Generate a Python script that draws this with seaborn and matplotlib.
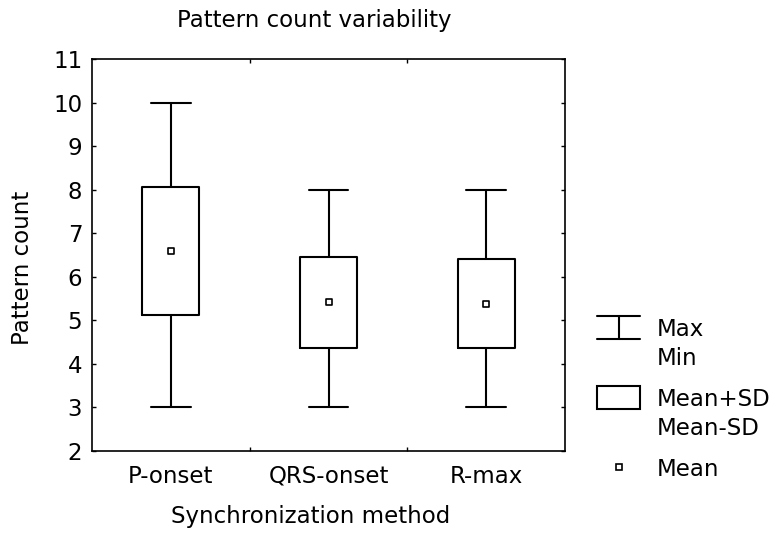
import matplotlib
matplotlib.use("Agg")
import matplotlib.pyplot as plt
from matplotlib.legend_handler import HandlerBase
from matplotlib.lines import Line2D
from matplotlib.patches import Rectangle
import seaborn as sns
import pandas as pd

# Summary statistics
methods = ["P-onset", "QRS-onset", "R-max"]
means = [6.59, 5.41, 5.38]
sds = [1.46, 1.04, 1.02]
mins = [3, 3, 3]
maxs = [10, 8, 8]

df = pd.DataFrame({"method": methods, "mean": means, "sd": sds, "min": mins, "max": maxs})

sns.set_style("ticks")
plt.rcParams["font.family"] = ["DejaVu Sans"]
plt.rcParams.update({"text.color": "black", "xtick.color": "black",
                     "ytick.color": "black", "axes.edgecolor": "black"})
FS = 16.5
LINESP = 1.36

fig = plt.figure(figsize=(7.77, 5.33), dpi=100)
ax = fig.add_axes([92 / 777, 82 / 533, 473 / 777, 392 / 533])

# boxes = mean +/- SD, whiskers = min/max
stats = [
    {"label": r.method, "med": r.mean, "q1": r.mean - r.sd, "q3": r.mean + r.sd,
     "whislo": r.min, "whishi": r.max, "fliers": []}
    for r in df.itertuples()
]
line = dict(color="black", linewidth=1.5)
ax.bxp(stats, positions=range(len(stats)), widths=0.36, capwidths=0.25,
       showfliers=False, boxprops=line, whiskerprops=line, capprops=line,
       medianprops=dict(linewidth=0))

# mean markers
sns.scatterplot(data=df, x=range(len(df)), y="mean", marker="s", s=25,
                facecolor="white", edgecolor="black", linewidth=1.2,
                zorder=5, ax=ax)

ax.set_xlim(-0.5, 2.5)
ax.set_ylim(2, 11)
ax.set_yticks(range(2, 12))
ax.set_xticks(range(len(methods)))
ax.set_xticklabels(methods)
ax.set_xticks([0.5, 1.5], minor=True)
ax.tick_params(axis="x", which="major", length=0, pad=10, labelsize=FS)
ax.tick_params(axis="x", which="minor", direction="in", length=3, width=1,
               top=True, bottom=True)
ax.tick_params(axis="y", direction="in", length=3, width=1, left=True,
               right=True, pad=7, labelsize=FS)
ax.set_xlabel("")
ax.set_ylabel("")
for sp in ax.spines.values():
    sp.set_linewidth(1.2)
    sp.set_color("black")

fig.text(314 / 777, 1 - 20 / 533, "Pattern count variability", fontsize=FS,
         ha="center", va="center")
fig.text(311 / 777, 1 - 516 / 533, "Synchronization method", fontsize=FS,
         ha="center", va="center")
fig.text(23 / 777, 1 - 268 / 533, "Pattern count", fontsize=FS,
         ha="center", va="center", rotation=90)

# legend handles sit beside the first line of a two-line label
SHIFT = 0.5 * 0.927 * LINESP + 0.15
HH = 1.0


class CapHandler(HandlerBase):
    def create_artists(self, legend, orig_handle, xdescent, ydescent,
                       width, height, fontsize, trans):
        x0, x1 = -xdescent, -xdescent + width
        xm = (x0 + x1) / 2
        yc = -ydescent + height / 2 + SHIFT * fontsize
        y0, y1 = yc - HH * fontsize / 2, yc + HH * fontsize / 2
        kw = dict(color="black", linewidth=1.5, transform=trans)
        return [Line2D([x0, x1], [y1, y1], **kw),
                Line2D([x0, x1], [y0, y0], **kw),
                Line2D([xm, xm], [y0, y1], **kw)]


class BoxHandler(HandlerBase):
    def create_artists(self, legend, orig_handle, xdescent, ydescent,
                       width, height, fontsize, trans):
        yc = -ydescent + height / 2 + SHIFT * fontsize
        return [Rectangle((-xdescent, yc - HH * fontsize / 2), width,
                          HH * fontsize, facecolor="white", edgecolor="black",
                          linewidth=1.5, transform=trans)]


cap_h = object()
box_h = object()
mean_h = Line2D([], [], marker="s", linestyle="none", markersize=5,
                markerfacecolor="white", markeredgecolor="black",
                markeredgewidth=1.2)
leg = fig.legend([cap_h, box_h, mean_h],
                 ["Max\nMin", "Mean+SD\nMean-SD", "Mean"],
                 handler_map={cap_h: CapHandler(), box_h: BoxHandler()},
                 loc="upper left", bbox_to_anchor=(597 / 777, 1 - 318 / 533),
                 frameon=False, fontsize=FS, handlelength=1.88,
                 handleheight=1.0, handletextpad=0.74, labelspacing=0.76,
                 borderpad=0, borderaxespad=0)
for t in leg.get_texts():
    t.set_linespacing(LINESP)

fig.savefig("out.png", dpi=100)
